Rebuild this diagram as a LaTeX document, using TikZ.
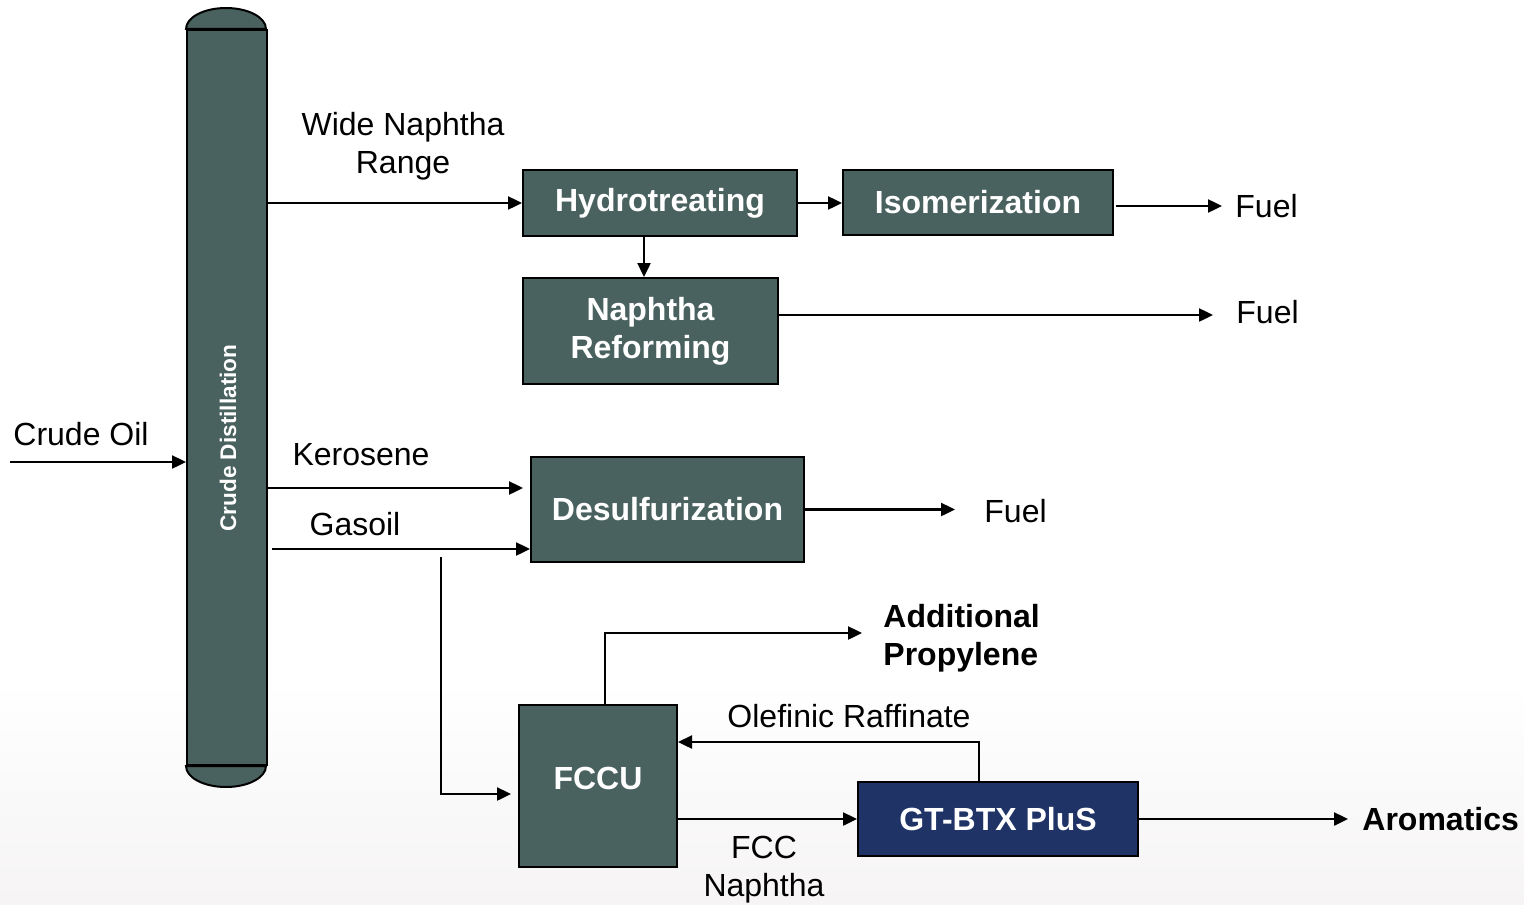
\documentclass[tikz,border=0pt]{standalone}
\usepackage{fontspec}
\setmainfont{Liberation Sans}
\usetikzlibrary{arrows.meta,calc}
\definecolor{teal}{HTML}{4A625F}
\definecolor{navy}{HTML}{1F3366}
\definecolor{bgbot}{HTML}{F6F4F4}
\begin{document}
\begin{tikzpicture}[x=0.5pt,y=-0.5pt,
  box/.style={draw=black,line width=1pt,fill=teal,text=white,font=\fontsize{16}{19}\selectfont\bfseries,align=center,inner sep=0pt},
  lbl/.style={font=\fontsize{16}{19}\selectfont,align=center,inner sep=0pt},
  blbl/.style={font=\fontsize{16}{19}\selectfont\bfseries,align=left,inner sep=0pt},
  arr/.style={line width=1.2pt,-{Triangle[length=7pt,width=6.5pt]}},
  ln/.style={line width=1.2pt}]
\useasboundingbox (0,0) rectangle (1524,904);
\fill[white] (0,0) rectangle (1524,904);
\shade[top color=white,bottom color=bgbot] (0,680) rectangle (1524,904);
% column
\node[draw=black,line width=1pt,fill=teal,minimum width=40pt,minimum height=367.5pt,inner sep=0pt] (col) at (227,397.5) {};
\path[draw=black,line width=1pt,fill=teal] (col.north west) arc[start angle=180,end angle=0,x radius=20pt,y radius=10.5pt] -- cycle;
\path[draw=black,line width=1pt,fill=teal] (col.south west) arc[start angle=180,end angle=360,x radius=20pt,y radius=10.5pt] -- cycle;
\node[rotate=90,text=white,font=\fontsize{11.3}{13}\selectfont\bfseries] (coltxt) at (228,438) {Crude Distillation};
% boxes
\node[box,minimum width=137pt,minimum height=33pt] (hyd) at (660,203) {Hydrotreating};
\node[box,minimum width=135pt,minimum height=32.5pt] (iso) at (978,202.5) {Isomerization};
\node[box,minimum width=127.5pt,minimum height=53pt] (ref) at (650.5,331) {Naphtha\\Reforming};
\node[box,minimum width=136.5pt,minimum height=52.5pt] (des) at (667.5,509.5) {Desulfurization};
\node[box,minimum width=79pt,minimum height=81pt,text depth=0pt] (fccu) at (598,786) {};
\node[text=white,font=\fontsize{16}{19}\selectfont\bfseries,inner sep=0pt] (fccutxt) at (598,778) {FCCU};
\node[box,fill=navy,minimum width=140pt,minimum height=37pt] (gt) at (998,819) {GT-BTX PluS};
% labels
\node[lbl] (crude) at (81,434) {Crude Oil};
\node[lbl] (wide) at (403,146) {Wide Naphtha\\Range};
\node[lbl] (kero) at (361,455) {Kerosene};
\node[lbl] (gas) at (355,524) {Gasoil};
\node[lbl,anchor=west] (fuel1) at (1235,206) {Fuel};
\node[lbl,anchor=west] (fuel2) at (1236,312) {Fuel};
\node[lbl,anchor=west] (fuel3) at (984,511) {Fuel};
\node[blbl,anchor=west] (prop) at (883,638) {Additional\\Propylene};
\node[lbl] (olef) at (849,716) {Olefinic Raffinate};
\node[lbl] (fccn) at (764,870) {FCC\\Naphtha};
\node[blbl,anchor=west] (arom) at (1362,819) {Aromatics};
% coordinates
\coordinate (cin) at (10,462);
\coordinate (br) at (441,557);
% connectors
\draw[arr] (cin) -- (cin -| col.west);
\draw[arr] (col.east |- hyd.west) -- (hyd.west);
\draw[arr] (hyd.east) -- (iso.west |- hyd.east);
\draw[arr] ([xshift=1pt]iso.east |- fuel1.west) -- ([xshift=-6.5pt]fuel1.west);
\draw[arr] (hyd.south -| 644,0) -- (ref.north -| 644,0);
\draw[arr] (ref.east |- 0,315) -- ([xshift=-11.5pt]fuel2.west |- 0,315);
\draw[arr] (col.east |- 0,488) -- ([xshift=-3.5pt]des.west |- 0,488);
\draw[arr] ([xshift=2pt]col.east |- 0,549) -- (des.west |- 0,549);
\draw[arr] (des.east) -- ([xshift=-14.5pt]fuel3.west |- des.east);
\draw[arr] (br) |- ([xshift=-3.5pt]fccu.west |- 0,794);
\draw[arr] (fccu.north -| 605,0) |- ([xshift=-10.5pt]prop.west |- 0,633);
\draw[arr] (gt.north -| 979,0) |- (fccu.east |- 0,742);
\draw[arr] (fccu.east |- gt.west) -- (gt.west);
\draw[arr] (gt.east) -- ([xshift=-7pt]arom.west |- gt.east);
\end{tikzpicture}
\end{document}
